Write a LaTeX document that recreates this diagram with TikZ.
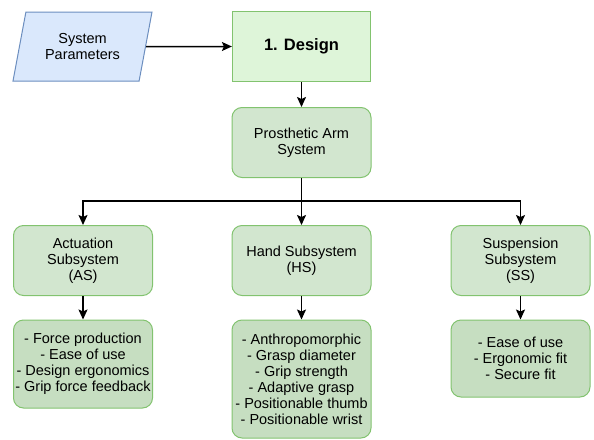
\documentclass[tikz,border=0pt]{standalone}
\usepackage{fontspec}
\setmainfont{Liberation Sans}
\usetikzlibrary{arrows.meta}
\usetikzlibrary{shapes.geometric}

\definecolor{paramfill}{HTML}{DAE8FC}
\definecolor{paramline}{HTML}{6C8EBF}
\definecolor{designfill}{HTML}{DEF5D9}
\definecolor{boxline}{HTML}{82C36F}
\definecolor{subfill}{HTML}{D2E6CF}
\definecolor{listfill}{HTML}{C6DEC1}

\begin{document}
\begin{tikzpicture}[x=1pt,y=-1pt,
    font=\fontsize{14.5}{16}\selectfont,
    params/.style={trapezium,trapezium left angle=68.6,trapezium right angle=111.4,
      trapezium stretches body,minimum width=139pt,minimum height=69pt,
      fill=paramfill,draw=paramline,line width=1pt,align=center},
    designbox/.style={rectangle,minimum width=138pt,minimum height=70pt,
      fill=designfill,draw=boxline,line width=1.2pt,
      font=\fontsize{16.5}{19}\selectfont\bfseries},
    subbox/.style={rectangle,rounded corners=10pt,minimum width=139pt,minimum height=70pt,
      inner xsep=1pt,fill=subfill,draw=boxline,line width=1pt,align=center},
    listbox/.style={subbox,fill=listfill},
    conn/.style={line width=1.5pt,-{Stealth[length=10pt,width=9pt,inset=2pt]}}]
    \useasboundingbox (0,0) rectangle (594,439);

    \node[params] (params) at (82.5,46.5) {System\\Parameters};
    \node[designbox] (design) at (301.5,46.5) {1. Design};
    \node[subbox] (arm) at (301.5,142.5) {Prosthetic Arm\\System};

    \node[subbox] (as) at (83,260.5) {Actuation\\Subsystem\\(AS)};
    \node[subbox] (hs) at (301.5,260.5) {Hand Subsystem\\(HS)};
    \node[subbox] (ss) at (520.5,260.5) {Suspension\\Subsystem\\(SS)};

    \node[listbox,minimum height=88pt] (as-list) at (83,364)
      {- Force production\\- Ease of use\\- Design ergonomics\\- Grip force feedback};
    \node[listbox,minimum height=118pt] (hs-list) at (301.5,379)
      {- Anthropomorphic\\- Grasp diameter\\- Grip strength\\- Adaptive grasp\\- Positionable thumb\\- Positionable wrist};
    \node[listbox,minimum height=77pt] (ss-list) at (520.5,358.5)
      {- Ease of use\\- Ergonomic fit\\- Secure fit};

    \coordinate (bus) at (301.5,201);

    \draw[conn] (params.east) -- (design.west);
    \draw[conn] (design.south) -- (arm.north);
    \draw[line width=1.5pt] (arm.south) -- (bus);
    \foreach \sub in {as, hs, ss}{
      \draw[conn] (bus) -| (\sub.north);
      \draw[conn] (\sub.south) -- (\sub-list.north);
    }
\end{tikzpicture}
\end{document}
